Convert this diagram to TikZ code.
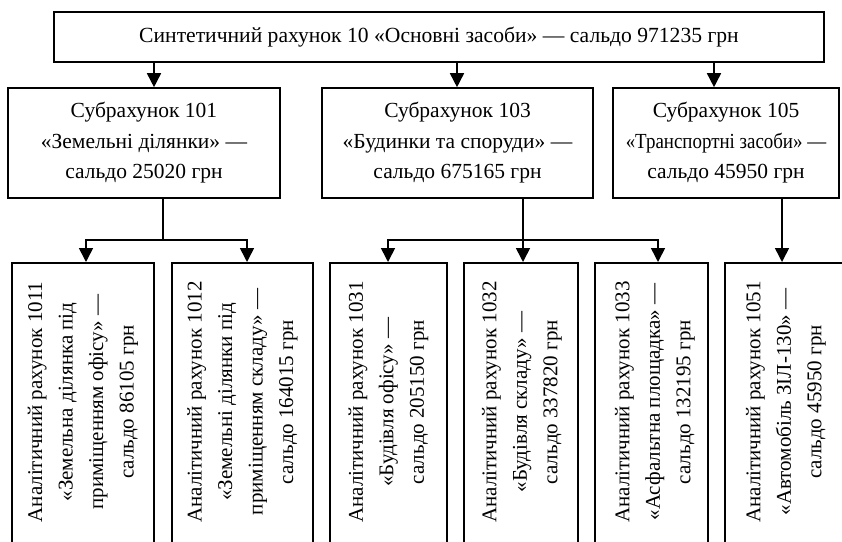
\documentclass[tikz,border=0pt]{standalone}
\usepackage{fontspec}
\usepackage{graphicx}
\setmainfont{Liberation Serif}
\usetikzlibrary{arrows.meta}
\begin{document}
\begin{tikzpicture}[x=1pt,y=-1pt,
  box/.style={draw,line width=1.6pt,inner sep=0pt,align=center},
  ln/.style={line width=1.6pt,line cap=rect},
  arr/.style={line width=1.6pt,line cap=rect,-{Triangle[width=14pt,length=14pt]}},
  toptext/.style={font=\fontsize{21.6}{26}\selectfont},
  subtext/.style={font=\fontsize{21.5}{30.5}\selectfont},
  vtext/.style={rotate=90,align=center,inner sep=0pt,font=\fontsize{21}{30.5}\selectfont}]
\useasboundingbox (0,0) rectangle (842,541);
\clip (0,0) rectangle (842,541);
\fill[white] (0,0) rectangle (842,541);
% top
\node[box,toptext,minimum width=770,minimum height=50] (top) at (439,37)
  {Синтетичний рахунок 10 «Основні засоби» — сальдо 971235 грн};
% sub accounts
\node[box,subtext,minimum width=272,minimum height=110] (s101) at (144,143)
  {Субрахунок 101\\«Земельні ділянки» —\\сальдо 25020 грн};
\node[box,subtext,minimum width=271,minimum height=110] (s103) at (457.5,143)
  {Субрахунок 103\\«Будинки та споруди» —\\сальдо 675165 грн};
\node[box,subtext,minimum width=226,minimum height=110] (s105) at (726,143)
  {Субрахунок 105\\\scalebox{0.88}[1]{«Транспортні засоби» —}\\сальдо 45950 грн};
% analytic boxes (open towards the bottom edge)
\node[box,minimum width=142,minimum height=320,anchor=north] (b1) at (83,262) {};
\node[box,minimum width=141,minimum height=320,anchor=north] (b2) at (242.5,262) {};
\node[box,minimum width=117,minimum height=320,anchor=north] (b3) at (388.5,262) {};
\node[box,minimum width=114,minimum height=320,anchor=north] (b4) at (521,262) {};
\node[box,minimum width=113,minimum height=320,anchor=north] (b5) at (651.5,262) {};
\node[box,minimum width=124,minimum height=320,anchor=north] (b6) at (787,262) {};
\node[vtext] (t1) at (83,402) {Аналітичний рахунок 1011\\«Земельна ділянка під\\приміщенням офісу» —\\сальдо 86105 грн};
\node[vtext] (t2) at (242.5,402) {Аналітичний рахунок 1012\\«Земельні ділянки під\\приміщенням складу» —\\сальдо 164015 грн};
\node[vtext] (t3) at (388.5,402) {Аналітичний рахунок 1031\\«Будівля офісу» —\\сальдо 205150 грн};
\node[vtext] (t4) at (522,402) {Аналітичний рахунок 1032\\«Будівля складу» —\\сальдо 337820 грн};
\node[vtext] (t5) at (655,402) {Аналітичний рахунок 1033\\«Асфальтна площадка» —\\сальдо 132195 грн};
\node[vtext] (t6) at (786,402) {Аналітичний рахунок 1051\\«Автомобіль ЗІЛ-130» —\\сальдо 45950 грн};
% connectors: top -> sub accounts
\coordinate (x1) at (154,0);
\coordinate (x2) at (457,0);
\coordinate (x3) at (714,0);
\draw[arr] (top.south -| x1) -- (s101.north -| x1);
\draw[arr] (top.south -| x2) -- (s103.north -| x2);
\draw[arr] (top.south -| x3) -- (s105.north -| x3);
% group 101
\coordinate (j1) at (163,240);
\coordinate (a1) at (86,240);
\coordinate (a2) at (247,240);
\draw[ln] (s101.south -| j1) -- (j1);
\draw[ln] (a1) -- (a2);
\draw[arr] (a1) -- (b1.north -| a1);
\draw[arr] (a2) -- (b2.north -| a2);
% group 103
\coordinate (j3) at (523,240);
\coordinate (c1) at (388,240);
\coordinate (c3) at (658,240);
\draw[ln] (s103.south -| j3) -- (j3);
\draw[ln] (c1) -- (c3);
\draw[arr] (c1) -- (b3.north -| c1);
\draw[arr] (j3) -- (b4.north -| j3);
\draw[arr] (c3) -- (b5.north -| c3);
% group 105
\coordinate (x6) at (782,0);
\draw[arr] (s105.south -| x6) -- (b6.north -| x6);
\end{tikzpicture}
\end{document}
